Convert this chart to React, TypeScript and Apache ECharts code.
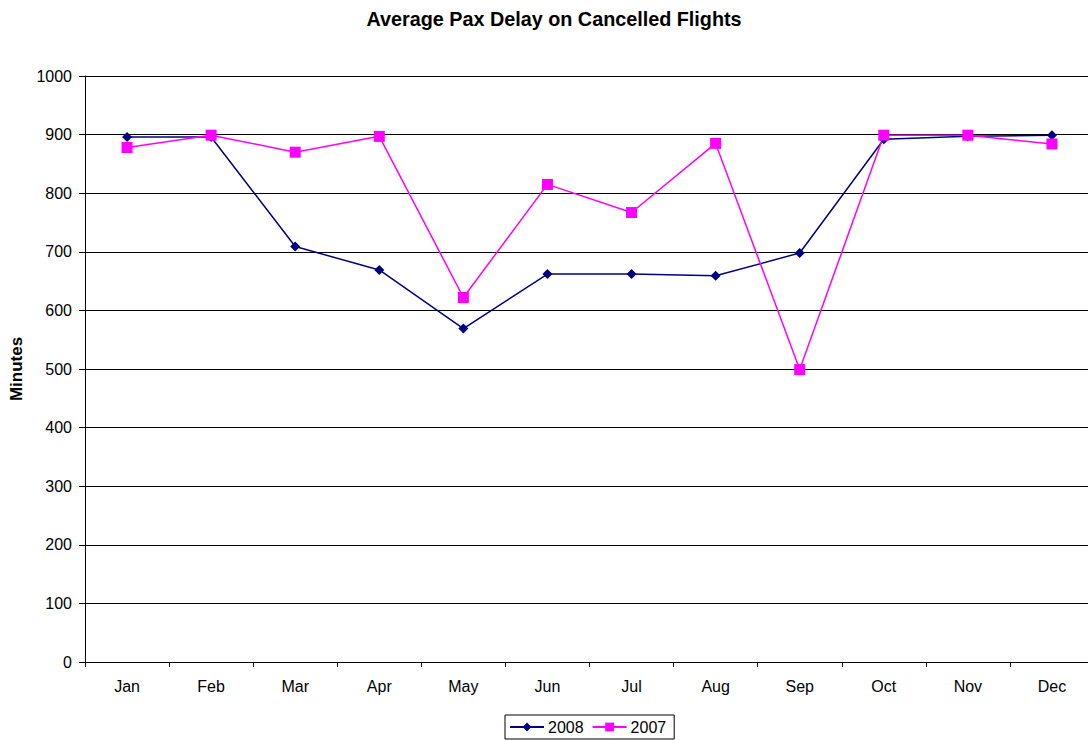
import React, { useEffect, useRef } from "react";
import * as echarts from "echarts";

const months = ["Jan", "Feb", "Mar", "Apr", "May", "Jun", "Jul", "Aug", "Sep", "Oct", "Nov", "Dec"];
const values2008 = [896, 896, 709, 669, 569, 662, 662, 659, 698, 892, 897, 899];
const values2007 = [878, 899, 870, 897, 622, 815, 767, 885, 499, 899, 899, 884];
const yTicks = { min: 0, max: 1000, interval: 100 };

export default function App() {
  const ref = useRef<HTMLDivElement>(null);
  useEffect(() => {
    if (!ref.current) return;
    const chart = echarts.init(ref.current, null, { renderer: "svg" });
    const font = "'Liberation Sans', Arial, sans-serif";
    chart.setOption({
      animation: false,
      backgroundColor: "#ffffff",
      textStyle: { fontFamily: font },
      title: {
        text: "Average Pax Delay on Cancelled Flights",
        left: 549,
        top: 4,
        textAlign: "center",
        textStyle: { fontFamily: font, fontSize: 19.8, fontWeight: "bold", color: "#000" },
      },
      grid: { left: 84, top: 76, bottom: 78, right: 0 },
      legend: {
        bottom: 1,
        left: 505,
        itemWidth: 34,
        itemHeight: 11,
        itemGap: 8,
        padding: [4, 8, 4, 4],
        borderColor: "#000",
        borderWidth: 1,
        borderRadius: 0,
        textStyle: { fontFamily: font, fontSize: 16, color: "#000", padding: [0, 0, 0, -1] },
        data: ["2008", "2007"],
      },
      xAxis: {
        type: "category",
        data: months,
        boundaryGap: true,
        axisLine: { lineStyle: { color: "#000", width: 1 } },
        axisTick: { show: true, length: 5, lineStyle: { color: "#000" } },
        axisLabel: { color: "#000", fontSize: 16, margin: 16, fontFamily: font },
      },
      yAxis: {
        type: "value",
        min: yTicks.min,
        max: yTicks.max,
        interval: yTicks.interval,
        name: "Minutes",
        nameLocation: "middle",
        nameGap: 60,
        nameTextStyle: { fontFamily: font, fontSize: 17, fontWeight: "bold", color: "#000" },
        axisLine: { show: true, lineStyle: { color: "#000", width: 1 } },
        axisTick: { show: true, length: 6, lineStyle: { color: "#000" } },
        axisLabel: { color: "#000", fontSize: 16, margin: 13, fontFamily: font, formatter: (v: number) => String(v) },
        splitLine: { show: true, lineStyle: { color: "#000", width: 1 } },
      },
      series: [
        {
          name: "2008",
          type: "line",
          data: values2008,
          symbol: "diamond",
          symbolSize: 10,
          itemStyle: { color: "#000080" },
          lineStyle: { color: "#000080", width: 1.5 },
        },
        {
          name: "2007",
          type: "line",
          data: values2007,
          symbol: "rect",
          symbolSize: 11,
          itemStyle: { color: "#ff00ff" },
          lineStyle: { color: "#ff00ff", width: 1.5 },
        },
      ],
    });
    return () => chart.dispose();
  }, []);
  return <div ref={ref} style={{ position: "fixed", left: 0, top: 0, width: 1094, height: 740 }} />;
}
